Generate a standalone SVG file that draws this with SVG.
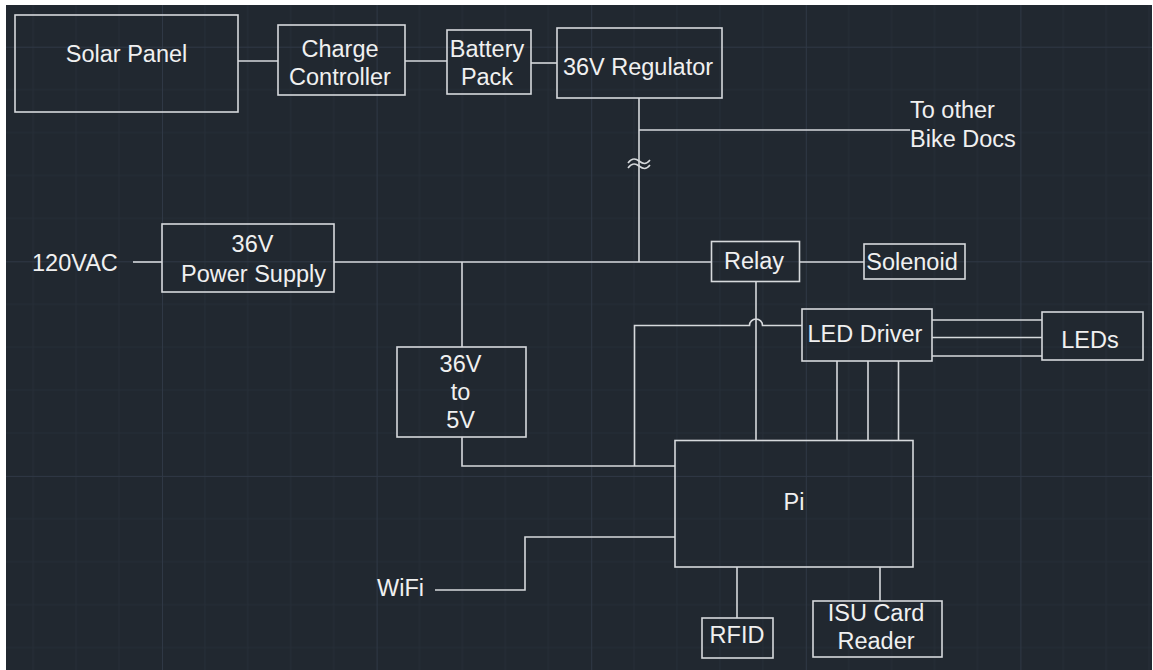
<svg xmlns="http://www.w3.org/2000/svg" width="1153" height="670" viewBox="0 0 1153 670">
<defs>
<pattern id="grid" patternUnits="userSpaceOnUse" x="162" y="46.7" width="214.6" height="214.6">
<path d="M42.92,0V214.6M85.84,0V214.6M128.76,0V214.6M171.68,0V214.6M0,42.92H214.6M0,85.84H214.6M0,128.76H214.6M0,171.68H214.6" fill="none" stroke="#262e38" stroke-width="1"/>
<path d="M0.5,0V214.6M0,0.5H214.6" fill="none" stroke="#2f3845" stroke-width="1"/>
</pattern>
<style>
.box{fill:none;stroke:#d6d9dc;stroke-width:1.6}
.w{fill:none;stroke:#d6d9dc;stroke-width:1.6}
text{font-family:"Liberation Sans",Arial,sans-serif;font-size:23.5px;fill:#f0f0f0}
.c{text-anchor:middle}
</style>
</defs>
<rect x="0" y="0" width="1153" height="670" fill="#212830"/>
<rect x="0" y="0" width="1153" height="670" fill="url(#grid)"/>
<rect x="0" y="0" width="1153" height="5" fill="#ffffff"/>
<rect x="0" y="0" width="6" height="670" fill="#ffffff"/>
<rect x="1152" y="0" width="1" height="670" fill="#ffffff"/>

<g id="connectors">
<path class="w" d="M238,61H278"/>
<path class="w" d="M405,61H447"/>
<path class="w" d="M531,63H557"/>
<path class="w" d="M639,98V262"/>
<path class="w" d="M639,130H910"/>
<path class="w" d="M628,163C632,158 635,158 639,161S646,165 650,160"/>
<path class="w" d="M628,168C632,163 635,163 639,166S646,170 650,165"/>
<path class="w" d="M133,262H162"/>
<path class="w" d="M334,262H711.5"/>
<path class="w" d="M462,262V347"/>
<path class="w" d="M799.5,262H864"/>
<path class="w" d="M756,281.5V440.5"/>
<path class="w" d="M462,437V466H675"/>
<path class="w" d="M634.5,466V325.5H749.5A6.5,6.5 0 0 1 762.5,325.5H802"/>
<path class="w" d="M837,361V440.5M868,361V440.5M898.5,361V440.5"/>
<path class="w" d="M932,320H1042M932,337.5H1042M932,356H1042"/>
<path class="w" d="M435,590H525V537H675"/>
<path class="w" d="M737,567V618"/>
<path class="w" d="M880,567V601"/>
</g>

<g id="solar-panel"><rect class="box" x="15" y="15" width="223" height="97"/><text class="c" x="126.5" y="62">Solar Panel</text></g>
<g id="charge-controller"><rect class="box" x="278" y="25" width="127" height="70"/><text class="c" x="340" y="57">Charge</text><text class="c" x="340" y="85">Controller</text></g>
<g id="battery-pack"><rect class="box" x="447" y="30" width="84" height="64"/><text class="c" x="487" y="57">Battery</text><text class="c" x="487" y="85">Pack</text></g>
<g id="regulator"><rect class="box" x="557" y="28" width="165" height="70"/><text class="c" x="638" y="75">36V Regulator</text></g>
<g id="to-other"><text x="910" y="118">To other</text><text x="910" y="147">Bike Docs</text></g>
<g id="ac-in"><text x="32" y="271">120VAC</text></g>
<g id="power-supply"><rect class="box" x="162" y="224" width="172" height="68"/><text class="c" x="252.5" y="252">36V</text><text class="c" x="253.5" y="281.5">Power Supply</text></g>
<g id="converter"><rect class="box" x="397" y="347" width="129" height="90"/><text class="c" x="460.5" y="372">36V</text><text class="c" x="460.5" y="400">to</text><text class="c" x="460.5" y="428">5V</text></g>
<g id="relay"><rect class="box" x="711.5" y="241.5" width="88" height="40"/><text class="c" x="754" y="269">Relay</text></g>
<g id="solenoid"><rect class="box" x="864" y="244" width="101" height="35"/><text class="c" x="912" y="270">Solenoid</text></g>
<g id="led-driver"><rect class="box" x="802" y="309" width="130" height="52"/><text class="c" x="865" y="342">LED Driver</text></g>
<g id="leds"><rect class="box" x="1042" y="312" width="101" height="48"/><text class="c" x="1090" y="348">LEDs</text></g>
<g id="pi"><rect class="box" x="675" y="440.5" width="238" height="126.5"/><text class="c" x="794" y="510">Pi</text></g>
<g id="wifi"><text x="377" y="596">WiFi</text></g>
<g id="rfid"><rect class="box" x="702" y="618" width="71" height="40"/><text class="c" x="737" y="643">RFID</text></g>
<g id="isu-card-reader"><rect class="box" x="813" y="601" width="129" height="56"/><text class="c" x="876" y="621">ISU Card</text><text class="c" x="876" y="649">Reader</text></g>
</svg>
